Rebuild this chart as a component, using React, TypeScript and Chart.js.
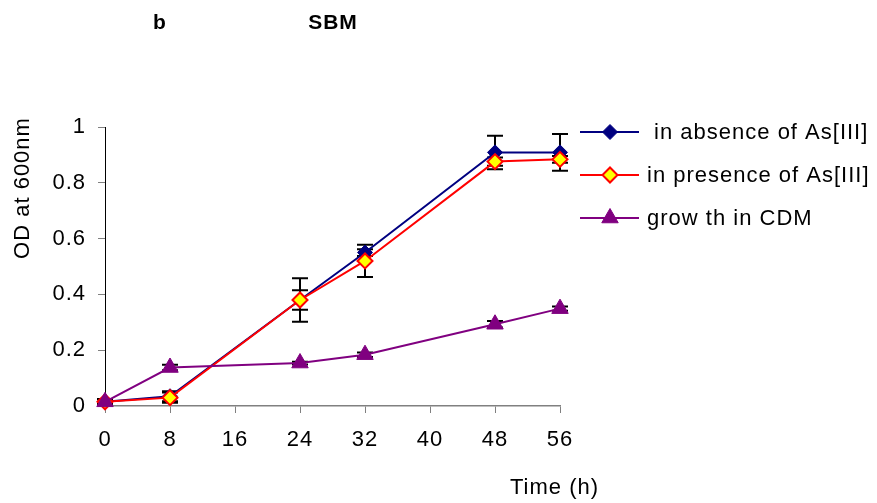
import React, { useEffect, useRef } from 'react';
import { Chart, registerables } from 'chart.js';
import { drawPoint } from 'chart.js/helpers';

Chart.register(...registerables);

const panelLetter = 'b';
const chartTitle = 'SBM';
const xAxisTitle = 'Time (h)';
const yAxisTitle = 'OD at 600nm';

const timeHours = [0, 8, 24, 32, 48, 56];
const absenceOD = [0.015, 0.035, 0.38, 0.55, 0.909, 0.909];
const absenceErr = [0.01, 0.018, 0.035, 0.012, 0.06, 0.066];
const presenceOD = [0.015, 0.03, 0.38, 0.52, 0.876, 0.884];
const presenceErr = [0.01, 0.018, 0.078, 0.058, 0.015, 0.012];
const cdmOD = [0.015, 0.138, 0.154, 0.184, 0.293, 0.349];
const cdmErr = [0.008, 0.01, 0.005, 0.008, 0.012, 0.008];
const seriesLabels = [' in absence of As[III]', 'in presence of As[III]', 'grow th in CDM'];

const FONT = '"Liberation Sans", Arial, sans-serif';
const SPACING = '1px';

const toPoints = (ys: number[]) => timeHours.map((x, i) => ({ x, y: ys[i] }));

const spacingPlugin = {
  id: 'letterSpacing',
  beforeUpdate(chart: any) { chart.ctx.letterSpacing = SPACING; },
  beforeLayout(chart: any) { chart.ctx.letterSpacing = SPACING; },
  beforeDraw(chart: any) { chart.ctx.letterSpacing = SPACING; },
};

const errorBarPlugin = {
  id: 'errorBars',
  beforeDatasetsDraw(chart: any) {
    const ctx = chart.ctx;
    const xs = chart.scales.x;
    const ys = chart.scales.y;
    ctx.save();
    ctx.strokeStyle = '#000';
    ctx.lineWidth = 2;
    chart.data.datasets.forEach((ds: any) => {
      const errs: number[] = ds.errors || [];
      ds.data.forEach((p: any, i: number) => {
        const e = errs[i] || 0;
        const px = xs.getPixelForValue(p.x);
        const top = ys.getPixelForValue(p.y + e);
        const bot = ys.getPixelForValue(p.y - e);
        ctx.beginPath();
        ctx.moveTo(px, top);
        ctx.lineTo(px, bot);
        ctx.moveTo(px - 8, top);
        ctx.lineTo(px + 8, top);
        ctx.moveTo(px - 8, bot);
        ctx.lineTo(px + 8, bot);
        ctx.stroke();
      });
    });
    ctx.restore();
  },
};

const textAndLegendPlugin = {
  id: 'textAndLegend',
  afterDraw(chart: any) {
    const ctx = chart.ctx;
    ctx.save();
    ctx.letterSpacing = SPACING;
    ctx.fillStyle = '#000';
    ctx.textBaseline = 'middle';
    ctx.textAlign = 'center';
    ctx.font = `bold 21px ${FONT}`;
    ctx.fillText(panelLetter, 160, 23);
    ctx.fillText(chartTitle, 333, 23);

    ctx.font = `22px ${FONT}`;
    ctx.textAlign = 'left';
    ctx.fillText(xAxisTitle, 510, 488);

    ctx.save();
    ctx.translate(23, 188);
    ctx.rotate(-Math.PI / 2);
    ctx.textAlign = 'center';
    ctx.fillText(yAxisTitle, 0, 0);
    ctx.restore();

    const rows = [132, 175, 218];
    chart.data.datasets.forEach((ds: any, i: number) => {
      const y = rows[i];
      ctx.strokeStyle = ds.borderColor;
      ctx.lineWidth = 2;
      ctx.beginPath();
      ctx.moveTo(580, y);
      ctx.lineTo(639, y);
      ctx.stroke();
      ctx.fillStyle = ds.pointBackgroundColor;
      ctx.strokeStyle = ds.pointBorderColor;
      ctx.lineWidth = ds.pointBorderWidth;
      drawPoint(ctx, { pointStyle: ds.pointStyle, radius: ds.pointRadius, borderWidth: ds.pointBorderWidth, rotation: 0 } as any, 610, y);
      ctx.fillStyle = '#000';
      ctx.textAlign = 'left';
      ctx.font = `22px ${FONT}`;
      ctx.fillText(ds.label, 647, y + 1);
    });
    ctx.restore();
  },
};

export default function App() {
  const ref = useRef<HTMLCanvasElement | null>(null);
  useEffect(() => {
    if (!ref.current) return;
    const chart = new Chart(ref.current, {
      type: 'line',
      data: {
        datasets: [
          {
            label: seriesLabels[0],
            data: toPoints(absenceOD),
            errors: absenceErr,
            borderColor: '#000080',
            borderWidth: 2,
            pointStyle: 'rectRot',
            pointRadius: 7.5,
            pointBackgroundColor: '#000080',
            pointBorderColor: '#000080',
            pointBorderWidth: 1,
            order: 2,
            clip: false,
          } as any,
          {
            label: seriesLabels[1],
            data: toPoints(presenceOD),
            errors: presenceErr,
            borderColor: '#ff0000',
            borderWidth: 2,
            pointStyle: 'rectRot',
            pointRadius: 7.5,
            pointBackgroundColor: '#ffff00',
            pointBorderColor: '#ff0000',
            pointBorderWidth: 2,
            order: 1,
            clip: false,
          } as any,
          {
            label: seriesLabels[2],
            data: toPoints(cdmOD),
            errors: cdmErr,
            borderColor: '#800080',
            borderWidth: 2,
            pointStyle: 'triangle',
            pointRadius: 9.5,
            pointBackgroundColor: '#800080',
            pointBorderColor: '#800080',
            pointBorderWidth: 1,
            order: 0,
            clip: false,
          } as any,
        ],
      },
      options: {
        responsive: false,
        animation: false,
        layout: { padding: { left: 0, top: 127, right: 317, bottom: 0 } },
        plugins: { legend: { display: false }, tooltip: { enabled: false }, title: { display: false } },
        scales: {
          x: {
            type: 'linear',
            min: 0,
            max: 56,
            afterFit: (s: any) => { s.height = 97; },
            ticks: { stepSize: 8, color: '#000', font: { size: 22, family: FONT }, padding: 14, maxRotation: 0 },
            grid: { drawOnChartArea: false, drawTicks: true, tickLength: 7, color: '#808080' },
            border: { display: true, color: '#808080', width: 1.5 },
          },
          y: {
            type: 'linear',
            min: 0,
            max: 1,
            afterFit: (s: any) => { s.width = 105; },
            ticks: {
              stepSize: 0.2,
              color: '#000',
              font: { size: 22, family: FONT },
              padding: 12,
              callback: (v: any) => String(Number(Number(v).toFixed(1))),
            },
            grid: { drawOnChartArea: false, drawTicks: true, tickLength: 7, color: '#808080' },
            border: { display: true, color: '#000', width: 1 },
          },
        },
      } as any,
      plugins: [spacingPlugin, errorBarPlugin, textAndLegendPlugin],
    });
    return () => chart.destroy();
  }, []);
  return (
    <div style={{ position: 'absolute', left: 0, top: 0, width: 877, height: 503, background: '#fff' }}>
      <canvas ref={ref} width={877} height={503} style={{ display: 'block' }} />
    </div>
  );
}
